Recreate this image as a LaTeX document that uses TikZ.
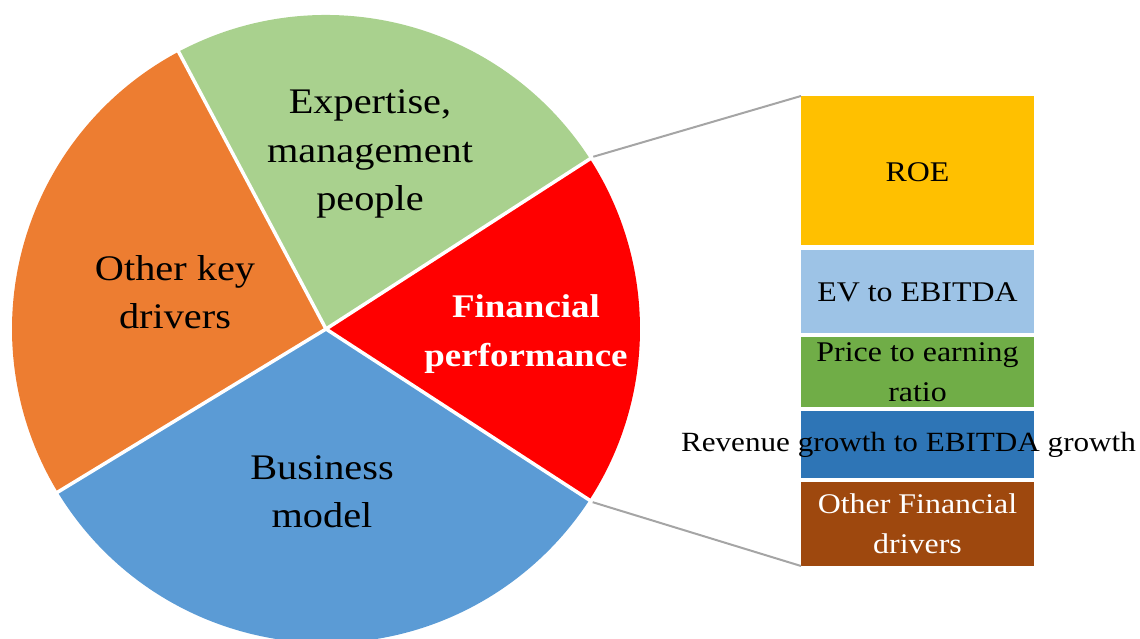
\documentclass[tikz,border=0pt]{standalone}
\usepackage{fontspec}
\setmainfont{Liberation Serif}[FakeStretch=1.12]
\definecolor{pieGreen}{HTML}{A9D18E}
\definecolor{pieOrange}{HTML}{ED7D31}
\definecolor{pieBlue}{HTML}{5B9BD5}
\definecolor{pieRed}{HTML}{FF0000}
\definecolor{leadGray}{HTML}{A5A5A5}
\definecolor{roeC}{HTML}{FFC000}
\definecolor{evC}{HTML}{9DC3E6}
\definecolor{peC}{HTML}{70AD47}
\definecolor{revC}{HTML}{2E75B6}
\definecolor{othC}{HTML}{9E480E}
\begin{document}
\begin{tikzpicture}[x=1pt,y=1pt,
  pielabel/.style={font=\fontsize{36}{48.5}\selectfont, align=center, inner sep=0pt},
  tilelabel/.style={font=\fontsize{28.5}{40}\selectfont, align=center, inner sep=0pt},
  tile/.style={minimum width=233pt, inner sep=0pt, outer sep=0pt},
  leader/.style={draw=leadGray, line width=2pt},
  slicegap/.style={draw=white, line width=3.5pt}]
\useasboundingbox (0,0) rectangle (1140,639);

% pie of value drivers
\begin{scope}[shift={(326,310)}]
  \coordinate (C) at (0,0);
  \fill[pieGreen]  (C) -- (32.8:314)  arc[start angle=32.8,  end angle=118,   radius=314] -- cycle;
  \fill[pieOrange] (C) -- (118:314)   arc[start angle=118,   end angle=211.3, radius=314] -- cycle;
  \fill[pieBlue]   (C) -- (211.3:314) arc[start angle=211.3, end angle=327,   radius=314] -- cycle;
  \fill[pieRed]    (C) -- (-33:314)   arc[start angle=-33,   end angle=32.8,  radius=314] -- cycle;
  \draw[slicegap] (C) -- (32.8:316);
  \draw[slicegap] (C) -- (118:316);
  \draw[slicegap] (C) -- (211.3:316);
  \draw[slicegap] (C) -- (-33:316);
  \coordinate (edgeTop) at (32.8:318);
  \coordinate (edgeBot) at (-33:318);
\end{scope}

\node[pielabel] (expertise) at (370,485) {Expertise,\\management\\people};
\node[pielabel] (otherkey) at (175,347) {Other key\\drivers};
\node[pielabel, text=white, font=\fontsize{33}{48.5}\selectfont\bfseries] (financial) at (526,305) {Financial\\performance};
\node[pielabel] (business) at (322,147) {Business\\model};

% breakdown of financial performance
\node[tile, fill=roeC, minimum height=149pt] (roe) at (917.5,468.5) {};
\node[tile, fill=evC,  minimum height=83pt]  (ev)  at (917.5,347.5) {};
\node[tile, fill=peC,  minimum height=70pt]  (pe)  at (917.5,267) {};
\node[tile, fill=revC, minimum height=67pt]  (rev) at (917.5,194.5) {};
\node[tile, fill=othC, minimum height=84pt]  (oth) at (917.5,115) {};

\node[tilelabel] (roeT) at ([yshift=-2pt]roe.center) {ROE};
\node[tilelabel] (evT)  at ([yshift=-1pt]ev.center) {EV to EBITDA};
\node[tilelabel] (peT)  at (pe.center) {Price to earning\\ratio};
\node[tilelabel, font=\fontsize{27.8}{40}\selectfont] (revT) at ([xshift=-9pt]rev.center) {Revenue growth to EBITDA growth};
\node[tilelabel, text=white] (othT) at (oth.center) {Other Financial\\drivers};

\draw[leader] (edgeTop) -- (roe.north west);
\draw[leader] (edgeBot) -- (oth.south west);
\end{tikzpicture}
\end{document}
